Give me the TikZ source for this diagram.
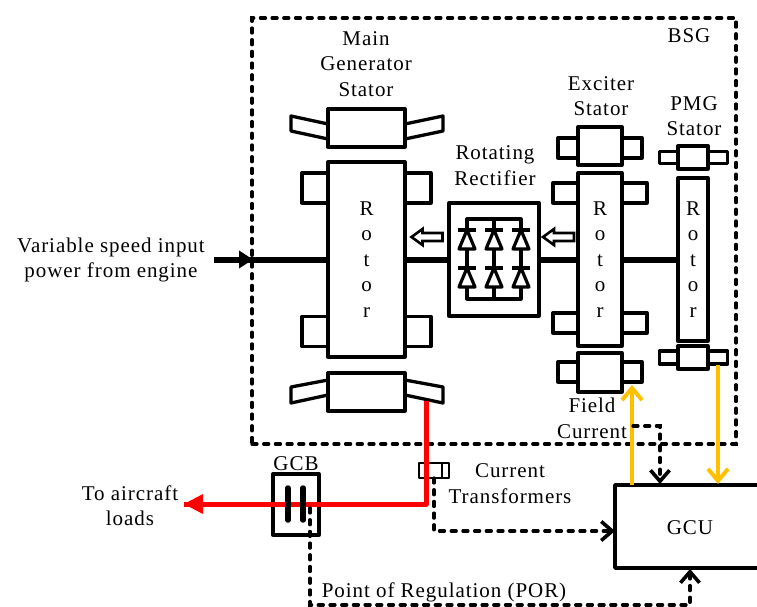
\documentclass[tikz,border=0pt]{standalone}
\usepackage{fontspec}
\setmainfont[LetterSpace=4.5]{Liberation Serif}
\usetikzlibrary{arrows.meta,positioning,calc}

\begin{document}
\begin{tikzpicture}[
  x=1pt, y=-1pt,
  font=\fontsize{21}{25.5}\selectfont,
  part/.style={draw, fill=white, line width=3.3pt, line join=round, inner sep=0pt, outer sep=0pt, align=center},
  label/.style={align=center, inner sep=0pt},
  shaft/.style={line width=6pt},
  signal/.style={line width=3.3pt, line cap=round, dash pattern=on 5pt off 6.7pt, -{Straight Barb[length=11pt, width=19pt, line width=3.6pt]}},
  dashline/.style={line width=3.3pt, line cap=round, dash pattern=on 5pt off 6.7pt},
  yellowline/.style={draw={rgb,255:red,255;green,192;blue,0}, line width=4pt, -{Straight Barb[length=12pt, width=20pt, line width=4pt]}},
  redline/.style={draw={rgb,255:red,255;green,0;blue,0}, line width=5pt, line join=round},
  diode/.pic={
    \draw[part, line width=3.2pt] (0,0) -- (-8,19) -- (8,19) -- cycle;
    \draw[line width=3.2pt] (-9,0) -- (9,0);
  },
  hollow/.pic={
    \draw[part, line width=2.6pt, line join=miter] (0,0) -- (11,-8) -- (11,-4) -- (31,-4) -- (31,4) -- (11,4) -- (11,8) -- cycle;
  }
]
\useasboundingbox (0,0) rectangle (757,607);
\clip (0,0) rectangle (757,607);
\fill[white] (0,0) rectangle (757,607);

% BSG enclosure
\node[draw, dashline, minimum width=484pt, minimum height=426pt, inner sep=0pt] (bsg) at (494,231) {};
\node[label] (bsglabel) at (689,36) {BSG};

% main generator
\draw[part] (328,124) -- (291,116) -- (291,131) -- (328,139) -- cycle;
\draw[part] (405,124) -- (443,116) -- (443,131) -- (405,139) -- cycle;
\node[part, minimum width=77pt, minimum height=38pt] (mainstatorA) at (366.5,128) {};
\draw[part] (328,380) -- (291,387) -- (291,403) -- (328,395) -- cycle;
\draw[part] (405,380) -- (443,387) -- (443,403) -- (405,395) -- cycle;
\node[part, minimum width=77pt, minimum height=38pt] (mainstatorB) at (366.5,392) {};
\node[part, minimum width=26pt, minimum height=30pt] (maintabA) at (315,188) {};
\node[part, minimum width=26pt, minimum height=30pt] (maintabB) at (418,188) {};
\node[part, minimum width=26pt, minimum height=30pt] (maintabC) at (315,331.5) {};
\node[part, minimum width=26pt, minimum height=30pt] (maintabD) at (418,331.5) {};
\node[part, minimum width=77pt, minimum height=195pt] (mainrotor) at (366.5,259.5) {R\\o\\t\\o\\r};
\node[label] (mainlabel) at (366,64) {Main\\Generator\\Stator};

% exciter
\node[part, minimum width=22pt, minimum height=20pt] (exctabA) at (569,148) {};
\node[part, minimum width=22pt, minimum height=20pt] (exctabB) at (631,148) {};
\node[part, minimum width=44pt, minimum height=38pt] (excstatorA) at (600,146) {};
\node[part, minimum width=22pt, minimum height=20pt] (exctabC) at (569,372) {};
\node[part, minimum width=22pt, minimum height=20pt] (exctabD) at (631,372) {};
\node[part, minimum width=44pt, minimum height=39pt] (excstatorB) at (600,372.5) {};
\node[part, minimum width=28pt, minimum height=20pt] (exctabE) at (567,193) {};
\node[part, minimum width=28pt, minimum height=20pt] (exctabF) at (633,193) {};
\node[part, minimum width=28pt, minimum height=20pt] (exctabG) at (567,323) {};
\node[part, minimum width=28pt, minimum height=20pt] (exctabH) at (633,323) {};
\node[part, minimum width=44pt, minimum height=173pt] (excrotor) at (600,259.5) {R\\o\\t\\o\\r};
\node[label] (exclabel) at (601,96) {Exciter\\Stator};

% PMG
\node[part, minimum width=68pt, minimum height=12pt] (pmgtabA) at (693.5,157.5) {};
\node[part, minimum width=30pt, minimum height=23pt] (pmgstatorA) at (693,157.5) {};
\node[part, minimum width=68pt, minimum height=13pt] (pmgtabB) at (693.5,357.5) {};
\node[part, minimum width=30pt, minimum height=23pt] (pmgstatorB) at (693,357.5) {};
\node[part, minimum width=30pt, minimum height=163pt] (pmgrotor) at (693,259.5) {R\\o\\t\\o\\r};
\node[label] (pmglabel) at (694,116) {PMG\\Stator};

% rotating rectifier
\node[part, minimum width=90pt, minimum height=113pt] (rectifier) at (494,259.5) {};
\node[label] (rectlabel) at (495,165.5) {Rotating\\Rectifier};
\draw[line width=3.2pt, line join=round] (467,219) rectangle (521,299);
\draw[line width=3.2pt] (494,219) -- (494,299);
\pic at (467,230) {diode};
\pic at (494,230) {diode};
\pic at (521,230) {diode};
\pic at (467,268) {diode};
\pic at (494,268) {diode};
\pic at (521,268) {diode};
\pic at (411.5,237) {hollow};
\pic at (543,237) {hollow};

% shaft
\coordinate (input) at (214,259.5);
\coordinate (inputtip) at (253,259.5);
\draw[shaft] (input) -- (mainrotor.west);
\fill (inputtip) -- ++(-14,-9) -- ++(0,18) -- cycle;
\draw[shaft] (mainrotor.east) -- (rectifier.west);
\draw[shaft] (rectifier.east) -- (excrotor.west);
\draw[shaft] (excrotor.east) -- (pmgrotor.west);
\node[label] (inputlabel) at (111,260) {Variable speed input\\power from engine};

% output feeder
\node[part, minimum width=46pt, minimum height=61pt] (gcb) at (296,504.5) {};
\node[label] (gcblabel) at (296,464) {GCB};
\node[part, line width=2.6pt, minimum width=30pt, minimum height=15pt] (ct) at (434,470.5) {};
\draw[line width=2.6pt] (442,463) -- (442,478);
\coordinate (wing) at (426,401);
\coordinate (corner) at (426,504);
\coordinate (loads) at (184,504);
\draw[redline] (wing) -- (corner) -- (loads);
\fill[red] (loads) -- ++(19,-10) -- ++(0,20) -- cycle;
\draw[line width=5.5pt, line cap=round] (288,488) -- (288,520);
\draw[line width=5.5pt, line cap=round] (303,488) -- (303,520);
\node[label] (loadslabel) at (130,505.5) {To aircraft\\loads};
\node[label] (ctlabel) at (510,483.5) {Current\\Transformers};

% GCU and signals
\node[part, line width=3.6pt, minimum width=160pt, minimum height=83pt] (gcu) at (695,526.5) {};
\node[label] (gculabel) at (690,528) {GCU};
\coordinate (excin) at (632,485);
\coordinate (excout) at (632,385);
\draw[yellowline] (excin) -- (excout);
\coordinate (pmgout) at (718,365);
\coordinate (pmgin) at (718,484);
\draw[yellowline] (pmgout) -- (pmgin);
\coordinate (fieldstart) at (633,426);
\coordinate (fieldcorner) at (660,426);
\coordinate (fieldend) at (660,484);
\draw[signal] (fieldstart) -- (fieldcorner) -- (fieldend);
\node[label] (fieldlabel) at (592,418.5) {Field\\Current};
\coordinate (ctcorner) at (434,531);
\draw[signal] (ct.south) -- (ctcorner) -- (gcu.west |- ctcorner);
\coordinate (porstart) at (310,508);
\coordinate (porcornerA) at (310,605);
\coordinate (porcornerB) at (690,605);
\coordinate (porend) at (690,569);
\draw[signal] (porstart) -- (porcornerA) -- (porcornerB) -- (porend);
\node[label] (porlabel) at (444,592) {Point of Regulation (POR)};
\end{tikzpicture}
\end{document}
